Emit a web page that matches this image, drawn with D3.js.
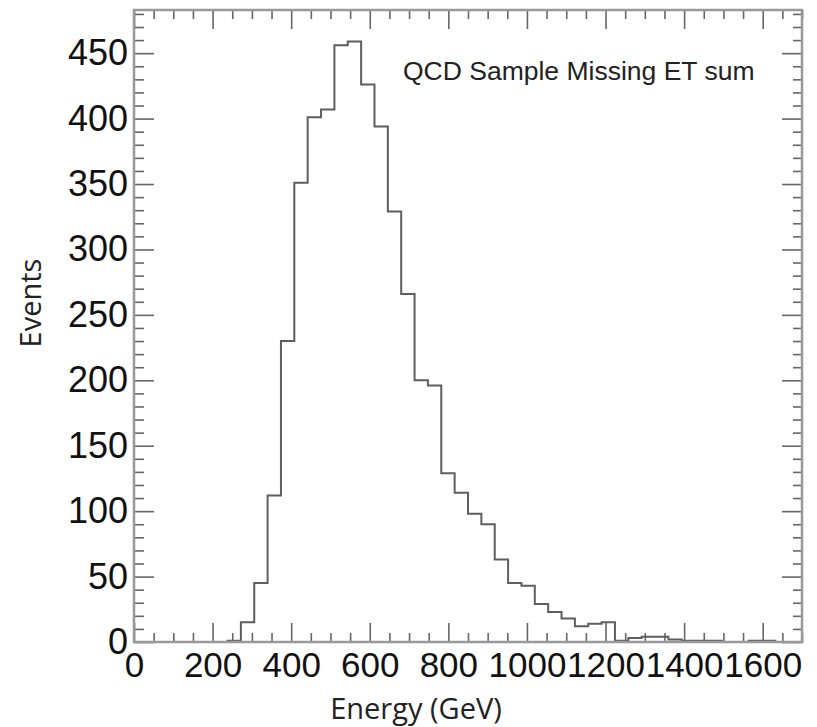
<!DOCTYPE html>
<html>
<head>
<meta charset="utf-8">
<script src="https://cdn.jsdelivr.net/npm/d3@7"></script>
<style>
  body { margin: 0; background: #fff; }
  svg { display: block; }
</style>
</head>
<body>
<div id="chart"></div>
<script>
// histogram contents, 50 bins of 34 GeV from 0 to 1700 GeV
const binWidth = 34;
const counts = [
  0, 0, 0, 0, 0, 0, 0, 1, 15, 45,
  112, 230, 351, 401, 407, 456, 459, 426, 394, 329,
  266, 200, 196, 129, 114, 98, 90, 63, 45, 43,
  29, 23, 18, 12, 14, 15, 1, 3, 4, 4,
  2, 1, 1, 1, 0, 0, 1, 1, 0, 0
];
const xMajorTicks = [0, 200, 400, 600, 800, 1000, 1200, 1400, 1600];
const yMajorTicks = [0, 50, 100, 150, 200, 250, 300, 350, 400, 450];
const titleText = "QCD Sample Missing ET sum";
const xTitle = "Energy (GeV)";
const yTitle = "Events";

const width = 817;
const height = 727;
const frame = {left: 134, right: 802, top: 10, bottom: 642};
const xMax = 1700;
const yMax = 483;

const svg = d3.select("#chart")
  .append("svg")
  .attr("width", width)
  .attr("height", height);

const xScale = d3.scaleLinear()
  .domain([0, xMax])
  .range([frame.left, frame.right]);

const yScale = d3.scaleLinear()
  .domain([0, yMax])
  .range([frame.bottom, frame.top]);

// minor tick positions
const xMinor = d3.range(0, xMax + 1, 50).filter(v => v % 200 !== 0);
const yMinor = d3.range(0, yMax, 10).filter(v => v % 50 !== 0);

const tickColor = "#666";
const labelFont = "'Liberation Sans', Arial, sans-serif";

function styleAxis(g, size) {
  g.select(".domain").remove();
  g.selectAll(".tick line").attr("stroke", tickColor).attr("stroke-width", 1.6);
  g.selectAll(".tick text")
    .attr("fill", "#111")
    .style("font-family", labelFont)
    .style("font-size", (size || 36) + "px");
}

// bottom axis (labels + major ticks pointing inward)
svg.append("g")
  .attr("transform", `translate(0,${frame.bottom})`)
  .call(d3.axisBottom(xScale).tickValues(xMajorTicks).tickSize(-19).tickPadding(10)
          .tickFormat(d3.format("d")))
  .call(styleAxis, 35);
svg.append("g")
  .attr("transform", `translate(0,${frame.bottom})`)
  .call(d3.axisBottom(xScale).tickValues(xMinor).tickSize(-9).tickFormat(""))
  .call(styleAxis);

// top axis, ticks only
svg.append("g")
  .attr("transform", `translate(0,${frame.top})`)
  .call(d3.axisTop(xScale).tickValues(xMajorTicks).tickSize(-19).tickFormat(""))
  .call(styleAxis);
svg.append("g")
  .attr("transform", `translate(0,${frame.top})`)
  .call(d3.axisTop(xScale).tickValues(xMinor).tickSize(-9).tickFormat(""))
  .call(styleAxis);

// left axis
svg.append("g")
  .attr("transform", `translate(${frame.left},0)`)
  .call(d3.axisLeft(yScale).tickValues(yMajorTicks).tickSize(-20).tickPadding(6)
          .tickFormat(d3.format("d")))
  .call(styleAxis);
svg.append("g")
  .attr("transform", `translate(${frame.left},0)`)
  .call(d3.axisLeft(yScale).tickValues(yMinor).tickSize(-10).tickFormat(""))
  .call(styleAxis);

// right axis, ticks only
svg.append("g")
  .attr("transform", `translate(${frame.right},0)`)
  .call(d3.axisRight(yScale).tickValues(yMajorTicks).tickSize(-20).tickFormat(""))
  .call(styleAxis);
svg.append("g")
  .attr("transform", `translate(${frame.right},0)`)
  .call(d3.axisRight(yScale).tickValues(yMinor).tickSize(-9).tickFormat(""))
  .call(styleAxis);

// histogram outline
const points = counts.map((c, i) => [i * binWidth, c]);
points.push([counts.length * binWidth, counts[counts.length - 1]]);

const line = d3.line()
  .x(d => xScale(d[0]))
  .y(d => yScale(d[1]))
  .curve(d3.curveStepAfter);

svg.append("path")
  .datum(points)
  .attr("d", line)
  .attr("fill", "none")
  .attr("stroke", "#5e5e5e")
  .attr("stroke-width", 2);

// frame
svg.append("rect")
  .attr("x", frame.left)
  .attr("y", frame.top)
  .attr("width", frame.right - frame.left)
  .attr("height", frame.bottom - frame.top)
  .attr("fill", "none")
  .attr("stroke", "#999")
  .attr("stroke-width", 2.5);

// titles
svg.append("text")
  .attr("x", 403)
  .attr("y", 80)
  .attr("fill", "#222")
  .style("font-family", labelFont)
  .style("font-size", "26.5px")
  .text(titleText);

svg.append("text")
  .attr("x", 416)
  .attr("y", 719)
  .attr("text-anchor", "middle")
  .attr("fill", "#222")
  .style("font-family", "'Open Sans', sans-serif")
  .style("font-size", "29px")
  .text(xTitle);

svg.append("text")
  .attr("transform", "translate(41,303) rotate(-90)")
  .attr("text-anchor", "middle")
  .attr("fill", "#222")
  .style("font-family", "'Open Sans', sans-serif")
  .style("font-size", "29px")
  .text(yTitle);
</script>
</body>
</html>
